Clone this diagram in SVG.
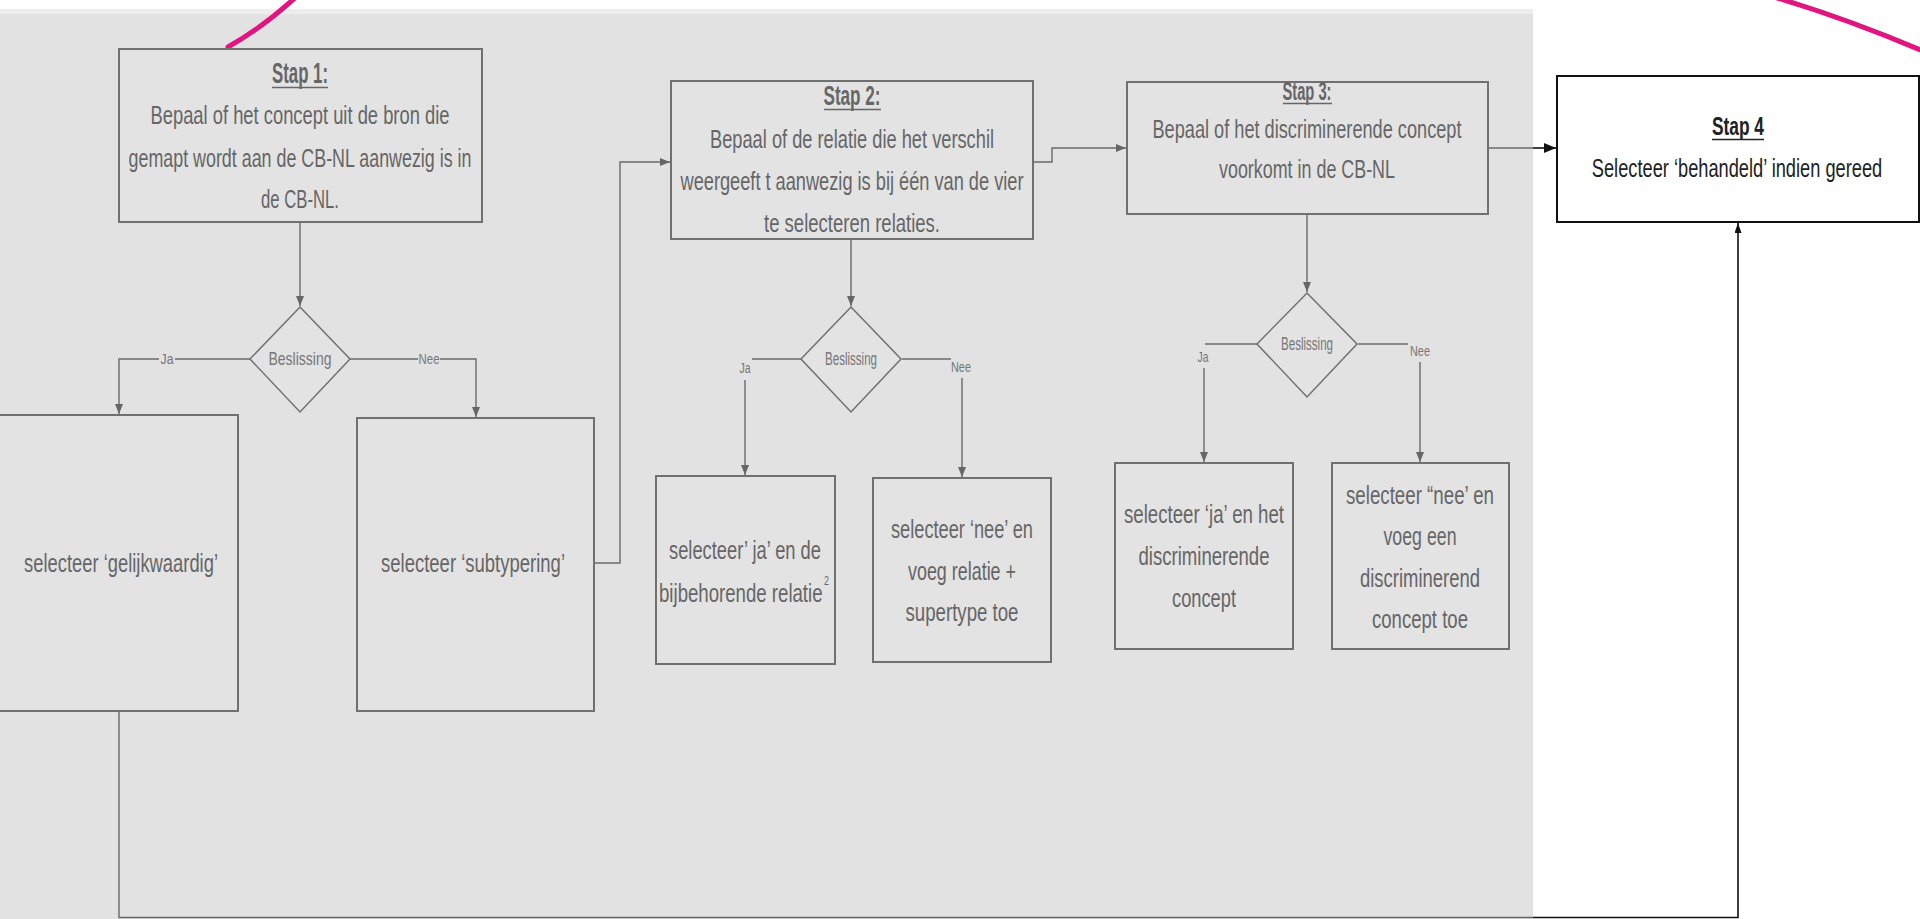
<svg xmlns="http://www.w3.org/2000/svg" width="1920" height="919" viewBox="0 0 1920 919">
<defs>
<style>
.t{font-family:"Liberation Sans Narrow","Liberation Sans",Arial,sans-serif;font-size:25px;fill:#666666;text-anchor:middle}
.tt{font-family:"Liberation Sans Narrow","Liberation Sans",Arial,sans-serif;font-size:27px;font-weight:bold;fill:#666666;text-anchor:middle}
.ul{stroke:#666666;stroke-width:1.5}
.box{fill:#e3e3e3;stroke:#707070;stroke-width:2}
.dia{fill:#e3e3e3;stroke:#707070;stroke-width:1.5}
.dl{font-family:"Liberation Sans Narrow","Liberation Sans",Arial,sans-serif;font-size:18px;fill:#777;text-anchor:middle}
.lb{font-family:"Liberation Sans Narrow","Liberation Sans",Arial,sans-serif;font-size:14px;fill:#777;text-anchor:middle}
.c{fill:none;stroke:#6a6a6a;stroke-width:1.4}
.cb{fill:none;stroke:#111;stroke-width:1.6}
.pink{fill:none;stroke:#e0157f;stroke-width:5;stroke-linecap:round}
</style>
<marker id="ag" markerWidth="10" markerHeight="8" refX="10" refY="4" orient="auto" markerUnits="userSpaceOnUse"><path d="M0,0 L10,4 L0,8 z" fill="#666"/></marker>
<marker id="ab" markerWidth="12" markerHeight="10" refX="12" refY="5" orient="auto" markerUnits="userSpaceOnUse"><path d="M0,0 L12,5 L0,10 z" fill="#111"/></marker>
<marker id="abs" markerWidth="10" markerHeight="7" refX="10" refY="3.5" orient="auto" markerUnits="userSpaceOnUse"><path d="M0,0 L10,3.5 L0,7 z" fill="#111"/></marker>
</defs>
<rect x="0" y="0" width="1920" height="919" fill="#ffffff"/>
<rect x="0" y="9" width="1533" height="6" fill="#ededed"/>
<rect x="0" y="14" width="1533" height="905" fill="#e2e2e2"/>

<g id="connectors">
<path class="c" d="M300,222 V306" marker-end="url(#ag)"/>
<path class="c" d="M250,359 H119 V414" marker-end="url(#ag)"/>
<path class="c" d="M350,359 H476 V417" marker-end="url(#ag)"/>
<path class="c" d="M594,563 H620 V162 H670" marker-end="url(#ag)"/>
<path class="c" d="M851,239 V306" marker-end="url(#ag)"/>
<path class="c" d="M802,359 H752"/>
<path class="c" d="M745,380 V475" marker-end="url(#ag)"/>
<path class="c" d="M902,359 H951"/>
<path class="c" d="M962,378 V477" marker-end="url(#ag)"/>
<path class="c" d="M1033,162 H1052 V148 H1126" marker-end="url(#ag)"/>
<path class="c" d="M1307,214 V292" marker-end="url(#ag)"/>
<path class="c" d="M1258,344 H1205"/>
<path class="c" d="M1204,368 V462" marker-end="url(#ag)"/>
<path class="c" d="M1358,344 H1408"/>
<path class="c" d="M1420,362 V462" marker-end="url(#ag)"/>
<path class="c" d="M1488,148 H1533"/>
<path class="cb" d="M1533,148 H1556" marker-end="url(#ab)"/>
<path class="c" d="M119,711 V917.5 H1533"/>
<path class="cb" d="M1533,917.5 H1738 V223" marker-end="url(#abs)"/>
<rect x="159" y="350" width="16" height="18" fill="#e2e2e2"/>
<text class="lb" x="167" y="364" textLength="13" lengthAdjust="spacingAndGlyphs">Ja</text>
<rect x="418" y="350" width="22" height="18" fill="#e2e2e2"/>
<text class="lb" x="429" y="364" textLength="21" lengthAdjust="spacingAndGlyphs">Nee</text>
<text class="lb" x="745" y="373" textLength="11" lengthAdjust="spacingAndGlyphs">Ja</text>
<text class="lb" x="961" y="372" textLength="20" lengthAdjust="spacingAndGlyphs">Nee</text>
<text class="lb" x="1203" y="362" textLength="11" lengthAdjust="spacingAndGlyphs">Ja</text>
<text class="lb" x="1420" y="356" textLength="20" lengthAdjust="spacingAndGlyphs">Nee</text>
</g>

<path class="pink" d="M228,47 Q262,28 296,-3"/>
<path class="pink" d="M1774,-3 Q1845,18 1923,51"/>

<g id="stap1">
<rect class="box" x="119" y="49" width="363" height="173"/>
<text class="tt" x="300" y="83" textLength="56" lengthAdjust="spacingAndGlyphs" style="font-size:29px">Stap 1:</text>
<line class="ul" x1="272" y1="87.5" x2="328" y2="87.5"/>
<text class="t" x="300" y="124" textLength="299" lengthAdjust="spacingAndGlyphs">Bepaal of het concept uit de bron die</text>
<text class="t" x="300" y="167" textLength="343" lengthAdjust="spacingAndGlyphs">gemapt wordt aan de CB-NL aanwezig is in</text>
<text class="t" x="300" y="208" textLength="78" lengthAdjust="spacingAndGlyphs">de CB-NL.</text>
</g>

<g id="beslissing1">
<polygon class="dia" points="300,307 350,359 300,412 250,359"/>
<text class="dl" x="300" y="365" textLength="63" lengthAdjust="spacingAndGlyphs">Beslissing</text>
</g>

<g id="gelijkwaardig">
<rect class="box" x="-2" y="415" width="240" height="296"/>
<text class="t" x="121" y="572" textLength="194" lengthAdjust="spacingAndGlyphs">selecteer ‘gelijkwaardig’</text>
</g>

<g id="subtypering">
<rect class="box" x="357" y="418" width="237" height="293"/>
<text class="t" x="473" y="572" textLength="184" lengthAdjust="spacingAndGlyphs">selecteer ‘subtypering’</text>
</g>

<g id="stap2">
<rect class="box" x="671" y="81" width="362" height="158"/>
<text class="tt" x="852" y="105" textLength="57" lengthAdjust="spacingAndGlyphs">Stap 2:</text>
<line class="ul" x1="824" y1="109.5" x2="881" y2="109.5"/>
<text class="t" x="852" y="148" textLength="284" lengthAdjust="spacingAndGlyphs">Bepaal of de relatie die het verschil</text>
<text class="t" x="852" y="190" textLength="343" lengthAdjust="spacingAndGlyphs">weergeeft t aanwezig is bij één van de vier</text>
<text class="t" x="852" y="232" textLength="176" lengthAdjust="spacingAndGlyphs">te selecteren relaties.</text>
</g>

<g id="beslissing2">
<polygon class="dia" points="851,307 901,359 851,412 801,359"/>
<text class="dl" x="851" y="365" textLength="52" lengthAdjust="spacingAndGlyphs">Beslissing</text>
</g>

<g id="stap2-ja">
<rect class="box" x="656" y="476" width="179" height="188"/>
<text class="t" x="745" y="559" textLength="152" lengthAdjust="spacingAndGlyphs">selecteer’ ja’ en de</text>
<text class="t" x="744" y="602" textLength="170" lengthAdjust="spacingAndGlyphs">bijbehorende relatie<tspan font-size="12" dx="2" dy="-17">2</tspan></text>
</g>

<g id="stap2-nee">
<rect class="box" x="873" y="478" width="178" height="184"/>
<text class="t" x="962" y="538" textLength="142" lengthAdjust="spacingAndGlyphs">selecteer ‘nee’ en</text>
<text class="t" x="962" y="580" textLength="108" lengthAdjust="spacingAndGlyphs">voeg relatie +</text>
<text class="t" x="962" y="621" textLength="113" lengthAdjust="spacingAndGlyphs">supertype toe</text>
</g>

<g id="stap3">
<rect class="box" x="1127" y="82" width="361" height="132"/>
<text class="tt" x="1307" y="100" textLength="49" lengthAdjust="spacingAndGlyphs" style="font-size:25px">Stap 3:</text>
<line class="ul" x1="1283" y1="103.5" x2="1332" y2="103.5"/>
<text class="t" x="1307" y="138" textLength="309" lengthAdjust="spacingAndGlyphs">Bepaal of het discriminerende concept</text>
<text class="t" x="1307" y="178" textLength="176" lengthAdjust="spacingAndGlyphs">voorkomt in de CB-NL</text>
</g>

<g id="beslissing3">
<polygon class="dia" points="1307,293 1357,344 1307,397 1257,344"/>
<text class="dl" x="1307" y="350" textLength="52" lengthAdjust="spacingAndGlyphs">Beslissing</text>
</g>

<g id="stap3-ja">
<rect class="box" x="1115" y="463" width="178" height="186"/>
<text class="t" x="1204" y="523" textLength="160" lengthAdjust="spacingAndGlyphs">selecteer ‘ja’ en het</text>
<text class="t" x="1204" y="565" textLength="131" lengthAdjust="spacingAndGlyphs">discriminerende</text>
<text class="t" x="1204" y="607" textLength="64" lengthAdjust="spacingAndGlyphs">concept</text>
</g>

<g id="stap3-nee">
<rect class="box" x="1332" y="463" width="177" height="186"/>
<text class="t" x="1420" y="504" textLength="148" lengthAdjust="spacingAndGlyphs">selecteer “nee’ en</text>
<text class="t" x="1420" y="545" textLength="73" lengthAdjust="spacingAndGlyphs">voeg een</text>
<text class="t" x="1420" y="587" textLength="120" lengthAdjust="spacingAndGlyphs">discriminerend</text>
<text class="t" x="1420" y="628" textLength="96" lengthAdjust="spacingAndGlyphs">concept toe</text>
</g>

<g id="stap4">
<rect x="1557" y="76" width="362" height="146" fill="#ffffff" stroke="#111" stroke-width="2"/>
<text class="tt" x="1738" y="135" textLength="52" lengthAdjust="spacingAndGlyphs" style="fill:#222;font-size:25px">Stap 4</text>
<line x1="1712" y1="139.5" x2="1764" y2="139.5" stroke="#222" stroke-width="1.5"/>
<text transform="translate(1737,177) scale(0.73,1)" x="0" y="0" font-family="Liberation Sans, Arial, sans-serif" font-size="25" fill="#222" text-anchor="middle">Selecteer ‘behandeld’ indien gereed</text>
</g>
</svg>
